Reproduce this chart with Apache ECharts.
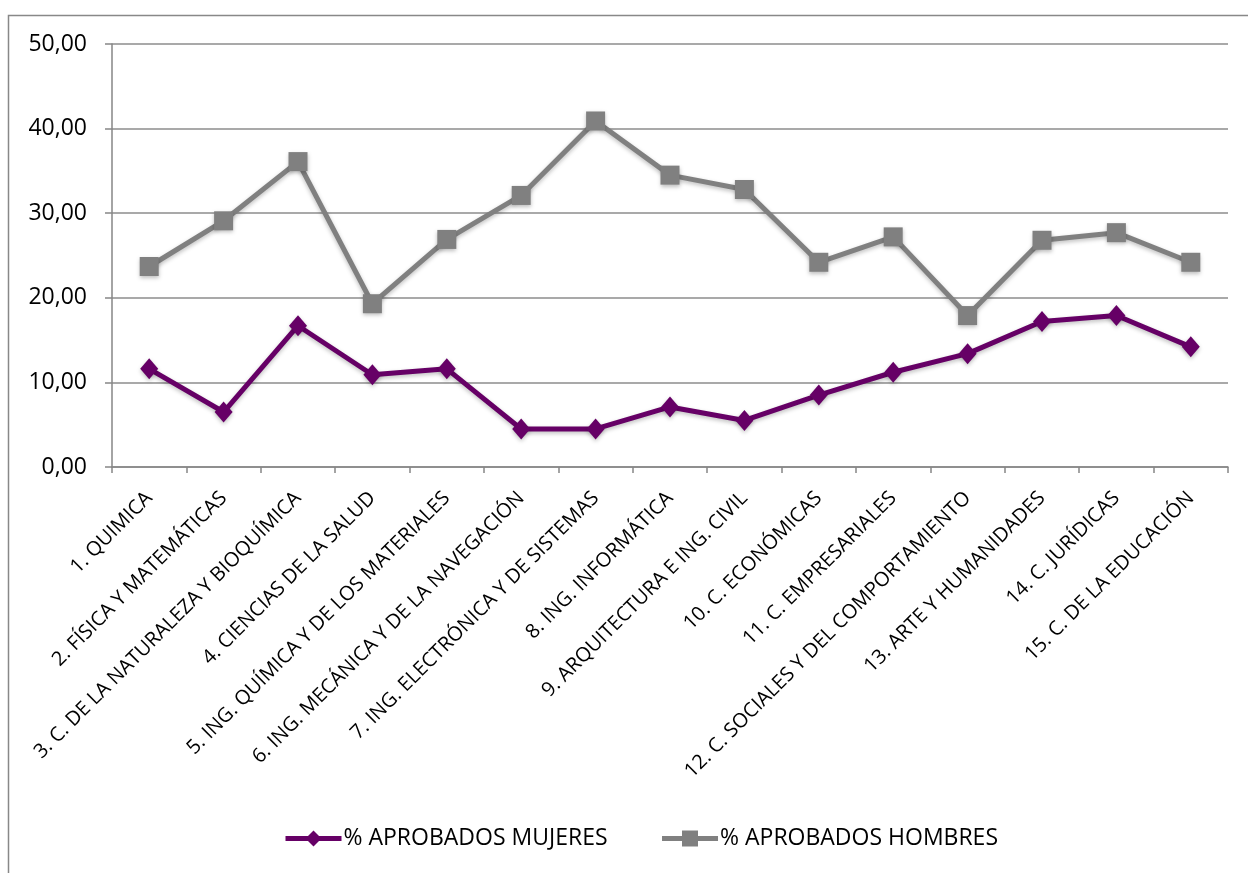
<!DOCTYPE html>
<html>
<head>
<meta charset="utf-8">
<script src="https://cdn.jsdelivr.net/npm/echarts@6/dist/echarts.min.js"></script>
<style>
    html, body { margin: 0; padding: 0; background: #ffffff; }
    #chart { width: 1248px; height: 873px; }
</style>
</head>
<body>
<div id="chart"></div>
<script>
    var categories = [
        '1. QUIMICA',
        '2. FÍSICA Y MATEMÁTICAS',
        '3. C. DE LA NATURALEZA Y BIOQUÍMICA',
        '4. CIENCIAS DE LA SALUD',
        '5. ING. QUÍMICA Y DE LOS MATERIALES',
        '6. ING. MECÁNICA Y DE LA NAVEGACIÓN',
        '7. ING. ELECTRÓNICA Y DE SISTEMAS',
        '8. ING. INFORMÁTICA',
        '9. ARQUITECTURA E ING. CIVIL',
        '10. C. ECONÓMICAS',
        '11. C. EMPRESARIALES',
        '12. C. SOCIALES Y DEL COMPORTAMIENTO',
        '13. ARTE Y HUMANIDADES',
        '14. C. JURÍDICAS',
        '15. C. DE LA EDUCACIÓN'
    ];

    var mujeres = [11.6, 6.5, 16.7, 10.9, 11.6, 4.5, 4.5, 7.1, 5.5, 8.5, 11.2, 13.4, 17.2, 17.9, 14.2];
    var hombres = [23.7, 29.1, 36.1, 19.3, 26.9, 32.1, 40.9, 34.5, 32.8, 24.2, 27.2, 17.9, 26.8, 27.7, 24.2];

    var seriesNames = ['% APROBADOS MUJERES', '% APROBADOS HOMBRES'];

    var FONT = '"Open Sans", "Noto Sans", sans-serif';

    function lineSeries(name, data, color, symbol, size) {
        return {
            name: name,
            type: 'line',
            data: data,
            symbol: symbol,
            symbolSize: size,
            lineStyle: {
                color: color,
                width: 5,
                shadowColor: 'rgba(0,0,0,0.25)',
                shadowBlur: 4,
                shadowOffsetY: 2
            },
            itemStyle: {
                color: color,
                shadowColor: 'rgba(0,0,0,0.25)',
                shadowBlur: 4,
                shadowOffsetY: 2
            },
            emphasis: { disabled: true }
        };
    }

    var chart = echarts.init(document.getElementById('chart'));

    chart.setOption({
        backgroundColor: '#ffffff',
        animation: false,
        textStyle: { fontFamily: FONT },
        graphic: [
            {
                type: 'rect',
                shape: { x: 8.5, y: 15.5, width: 1260, height: 880 },
                style: { fill: 'none', stroke: '#888888', lineWidth: 1.5 },
                silent: true
            }
        ],
        grid: {
            left: 112,
            right: 20,
            top: 44,
            bottom: 406
        },
        legend: {
            top: 822,
            left: 278,
            itemWidth: 56,
            itemHeight: 20,
            itemGap: 52,
            lineStyle: { width: 5 },
            textStyle: {
                color: '#000000',
                fontSize: 23,
                fontFamily: FONT,
                padding: [0, 0, 0, -3]
            },
            data: seriesNames
        },
        xAxis: {
            type: 'category',
            data: categories,
            boundaryGap: true,
            axisLine: { lineStyle: { color: '#868686', width: 1.5 } },
            axisTick: {
                show: true,
                length: 6,
                lineStyle: { color: '#868686', width: 1.5 }
            },
            axisLabel: {
                interval: 0,
                rotate: 45,
                margin: 28,
                color: '#000000',
                fontSize: 20,
                fontFamily: FONT
            }
        },
        yAxis: {
            type: 'value',
            min: 0,
            max: 50,
            interval: 10,
            axisLine: { show: true, lineStyle: { color: '#868686', width: 1.5 } },
            axisTick: { show: true, length: 7, lineStyle: { color: '#868686', width: 1.5 } },
            splitLine: { lineStyle: { color: '#8c8c8c', width: 1.5 } },
            axisLabel: {
                color: '#000000',
                fontSize: 23,
                margin: 25,
                fontFamily: FONT,
                formatter: function (v) {
                    return v.toFixed(2).replace('.', ',');
                }
            }
        },
        series: [
            lineSeries(seriesNames[0], mujeres, '#660066', 'diamond', [18, 21]),
            lineSeries(seriesNames[1], hombres, '#808080', 'rect', 19)
        ]
    });
</script>
</body>
</html>
